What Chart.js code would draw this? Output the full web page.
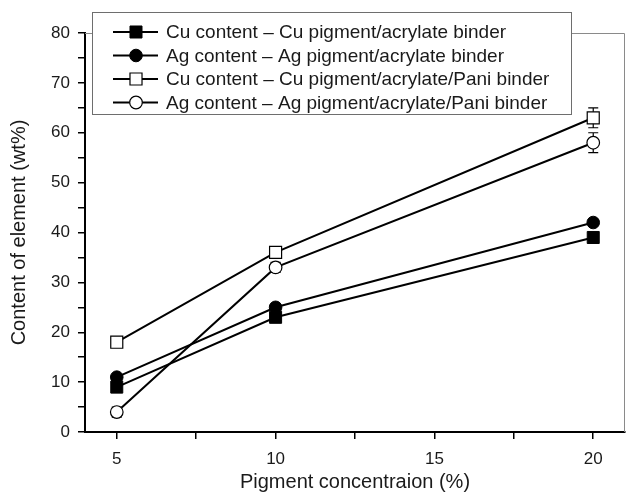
<!DOCTYPE html>
<html>
<head>
<meta charset="utf-8">
<script src="https://cdn.jsdelivr.net/npm/chart.js@4/dist/chart.umd.min.js"></script>
<style>
  html, body { margin: 0; padding: 0; background: #fff; }
  canvas { display: block; }
</style>
</head>
<body>
<canvas id="graph" width="627" height="494"></canvas>
<script>
// pigment concentration (%) and element content (wt%)
const concentrations = [5, 10, 20];
const cuAcrylate = [9, 23, 39];
const agAcrylate = [11, 25, 42];
const cuPani = [18, 36, 63];
const agPani = [4, 33, 58];
const cuPaniErr = [1, 1, 2];
const agPaniErr = [1, 1, 2];

const xTicks = [5, 7.5, 10, 12.5, 15, 17.5, 20];
const xTickLabels = [5, 10, 15, 20];
const yTicks = [0, 5, 10, 15, 20, 25, 30, 35, 40, 45, 50, 55, 60, 65, 70, 75, 80];
const yTickLabels = [0, 10, 20, 30, 40, 50, 60, 70, 80];

const seriesNames = [
  "Cu content \u2013 Cu pigment/acrylate binder",
  "Ag content \u2013 Ag pigment/acrylate binder",
  "Cu content \u2013 Cu pigment/acrylate/Pani binder",
  "Ag content \u2013 Ag pigment/acrylate/Pani binder",
];

const FONT = "'Liberation Sans', Arial, Helvetica, sans-serif";
const INK = "#1a1a1a";

function points(values) {
  return values.map((v, i) => ({ x: concentrations[i], y: v }));
}

function series(label, values, style, filled, errors) {
  return {
    label: label,
    data: points(values),
    errors: errors,
    borderColor: "#000",
    borderWidth: 2,
    tension: 0,
    pointStyle: style,
    pointRadius: style === "rect" ? 8.5 : 6.3,
    pointBackgroundColor: filled ? "#000" : "#fff",
    pointBorderColor: "#000",
    pointBorderWidth: filled ? 1 : 1.2,
  };
}

// vertical error bars with caps, drawn under the markers
const errorBars = {
  id: "errorBars",
  beforeDatasetsDraw(chart) {
    const ctx = chart.ctx;
    const xs = chart.scales.x, ys = chart.scales.y;
    ctx.save();
    ctx.strokeStyle = "#000";
    ctx.lineWidth = 1.2;
    chart.data.datasets.forEach((ds) => {
      if (!ds.errors) return;
      ds.data.forEach((p, i) => {
        const e = ds.errors[i];
        const x = xs.getPixelForValue(p.x);
        const y1 = ys.getPixelForValue(p.y - e);
        const y2 = ys.getPixelForValue(p.y + e);
        ctx.beginPath();
        ctx.moveTo(x, y1); ctx.lineTo(x, y2);
        ctx.moveTo(x - 5, y1); ctx.lineTo(x + 5, y1);
        ctx.moveTo(x - 5, y2); ctx.lineTo(x + 5, y2);
        ctx.stroke();
      });
    });
    ctx.restore();
  },
};

function drawMarker(ctx, ds, x, y) {
  ctx.fillStyle = ds.pointBackgroundColor;
  ctx.strokeStyle = ds.pointBorderColor;
  ctx.lineWidth = ds.pointBorderWidth;
  ctx.beginPath();
  if (ds.pointStyle === "rect") {
    const s = ds.pointRadius * Math.SQRT1_2;
    ctx.rect(x - s, y - s, 2 * s, 2 * s);
  } else {
    ctx.arc(x, y, ds.pointRadius, 0, Math.PI * 2);
  }
  ctx.fill();
  ctx.stroke();
}

// thin frame on top/right plus the boxed legend that overlaps the top edge
const frameAndLegend = {
  id: "frameAndLegend",
  afterDraw(chart) {
    const ctx = chart.ctx;
    const a = chart.chartArea;
    ctx.save();
    ctx.strokeStyle = "#8a8a8a";
    ctx.lineWidth = 1;
    ctx.beginPath();
    ctx.moveTo(a.left, a.top + 0.5);
    ctx.lineTo(a.right - 0.5, a.top + 0.5);
    ctx.lineTo(a.right - 0.5, a.bottom);
    ctx.stroke();

    const box = { x: 92.5, y: 12.5, w: 479, h: 102 };
    ctx.fillStyle = "#fff";
    ctx.fillRect(box.x, box.y, box.w, box.h);
    ctx.strokeStyle = "#6e6e6e";
    ctx.strokeRect(box.x, box.y, box.w, box.h);

    ctx.font = "19px " + FONT;
    ctx.textBaseline = "middle";
    chart.data.datasets.forEach((ds, i) => {
      const y = 32 + i * 23.5;
      ctx.strokeStyle = "#000";
      ctx.lineWidth = 2;
      ctx.beginPath();
      ctx.moveTo(113, y); ctx.lineTo(158, y);
      ctx.stroke();
      drawMarker(ctx, ds, 136, y);
      ctx.fillStyle = INK;
      ctx.fillText(seriesNames[i], 166, y + 1);
    });
    ctx.restore();
  },
};

new Chart(document.getElementById("graph"), {
  type: "line",
  data: {
    datasets: [
      series(seriesNames[0], cuAcrylate, "rect", true, null),
      series(seriesNames[1], agAcrylate, "circle", true, null),
      series(seriesNames[2], cuPani, "rect", false, cuPaniErr),
      series(seriesNames[3], agPani, "circle", false, agPaniErr),
    ],
  },
  options: {
    responsive: false,
    animation: false,
    devicePixelRatio: 1,
    layout: { autoPadding: false, padding: { top: 33, right: 2, left: 0, bottom: 0 } },
    plugins: { legend: { display: false }, tooltip: { enabled: false } },
    scales: {
      x: {
        type: "linear",
        min: 4,
        max: 21,
        afterBuildTicks: (scale) => {
          scale.ticks = xTicks.map((v) => ({ value: v }));
        },
        afterFit: (scale) => {
          scale.height = 62;
          scale.paddingLeft = 0;
          scale.paddingRight = 0;
        },
        ticks: {
          autoSkip: false,
          maxRotation: 0,
          padding: 10,
          color: INK,
          font: { family: FONT, size: 17 },
          callback: (v) => (xTickLabels.includes(v) ? String(v) : ""),
        },
        grid: { drawOnChartArea: false, tickLength: 7, color: "#000", lineWidth: 1.5 },
        border: { color: "#000", width: 2 },
        title: {
          display: true,
          text: "Pigment concentraion (%)",
          color: INK,
          font: { family: FONT, size: 20 },
          padding: { top: 0, bottom: 0 },
        },
      },
      y: {
        type: "linear",
        min: 0,
        max: 80,
        afterBuildTicks: (scale) => {
          scale.ticks = yTicks.map((v) => ({ value: v }));
        },
        afterFit: (scale) => { scale.width = 85; },
        ticks: {
          autoSkip: false,
          padding: 8,
          color: INK,
          font: { family: FONT, size: 17 },
          callback: (v) => (yTickLabels.includes(v) ? String(v) : ""),
        },
        grid: { drawOnChartArea: false, tickLength: 7, color: "#000", lineWidth: 1.5 },
        border: { color: "#000", width: 2 },
        title: {
          display: true,
          text: "Content of element (wt%)",
          color: INK,
          font: { family: FONT, size: 20 },
          padding: { top: 7, bottom: 0 },
        },
      },
    },
  },
  plugins: [errorBars, frameAndLegend],
});
</script>
</body>
</html>
